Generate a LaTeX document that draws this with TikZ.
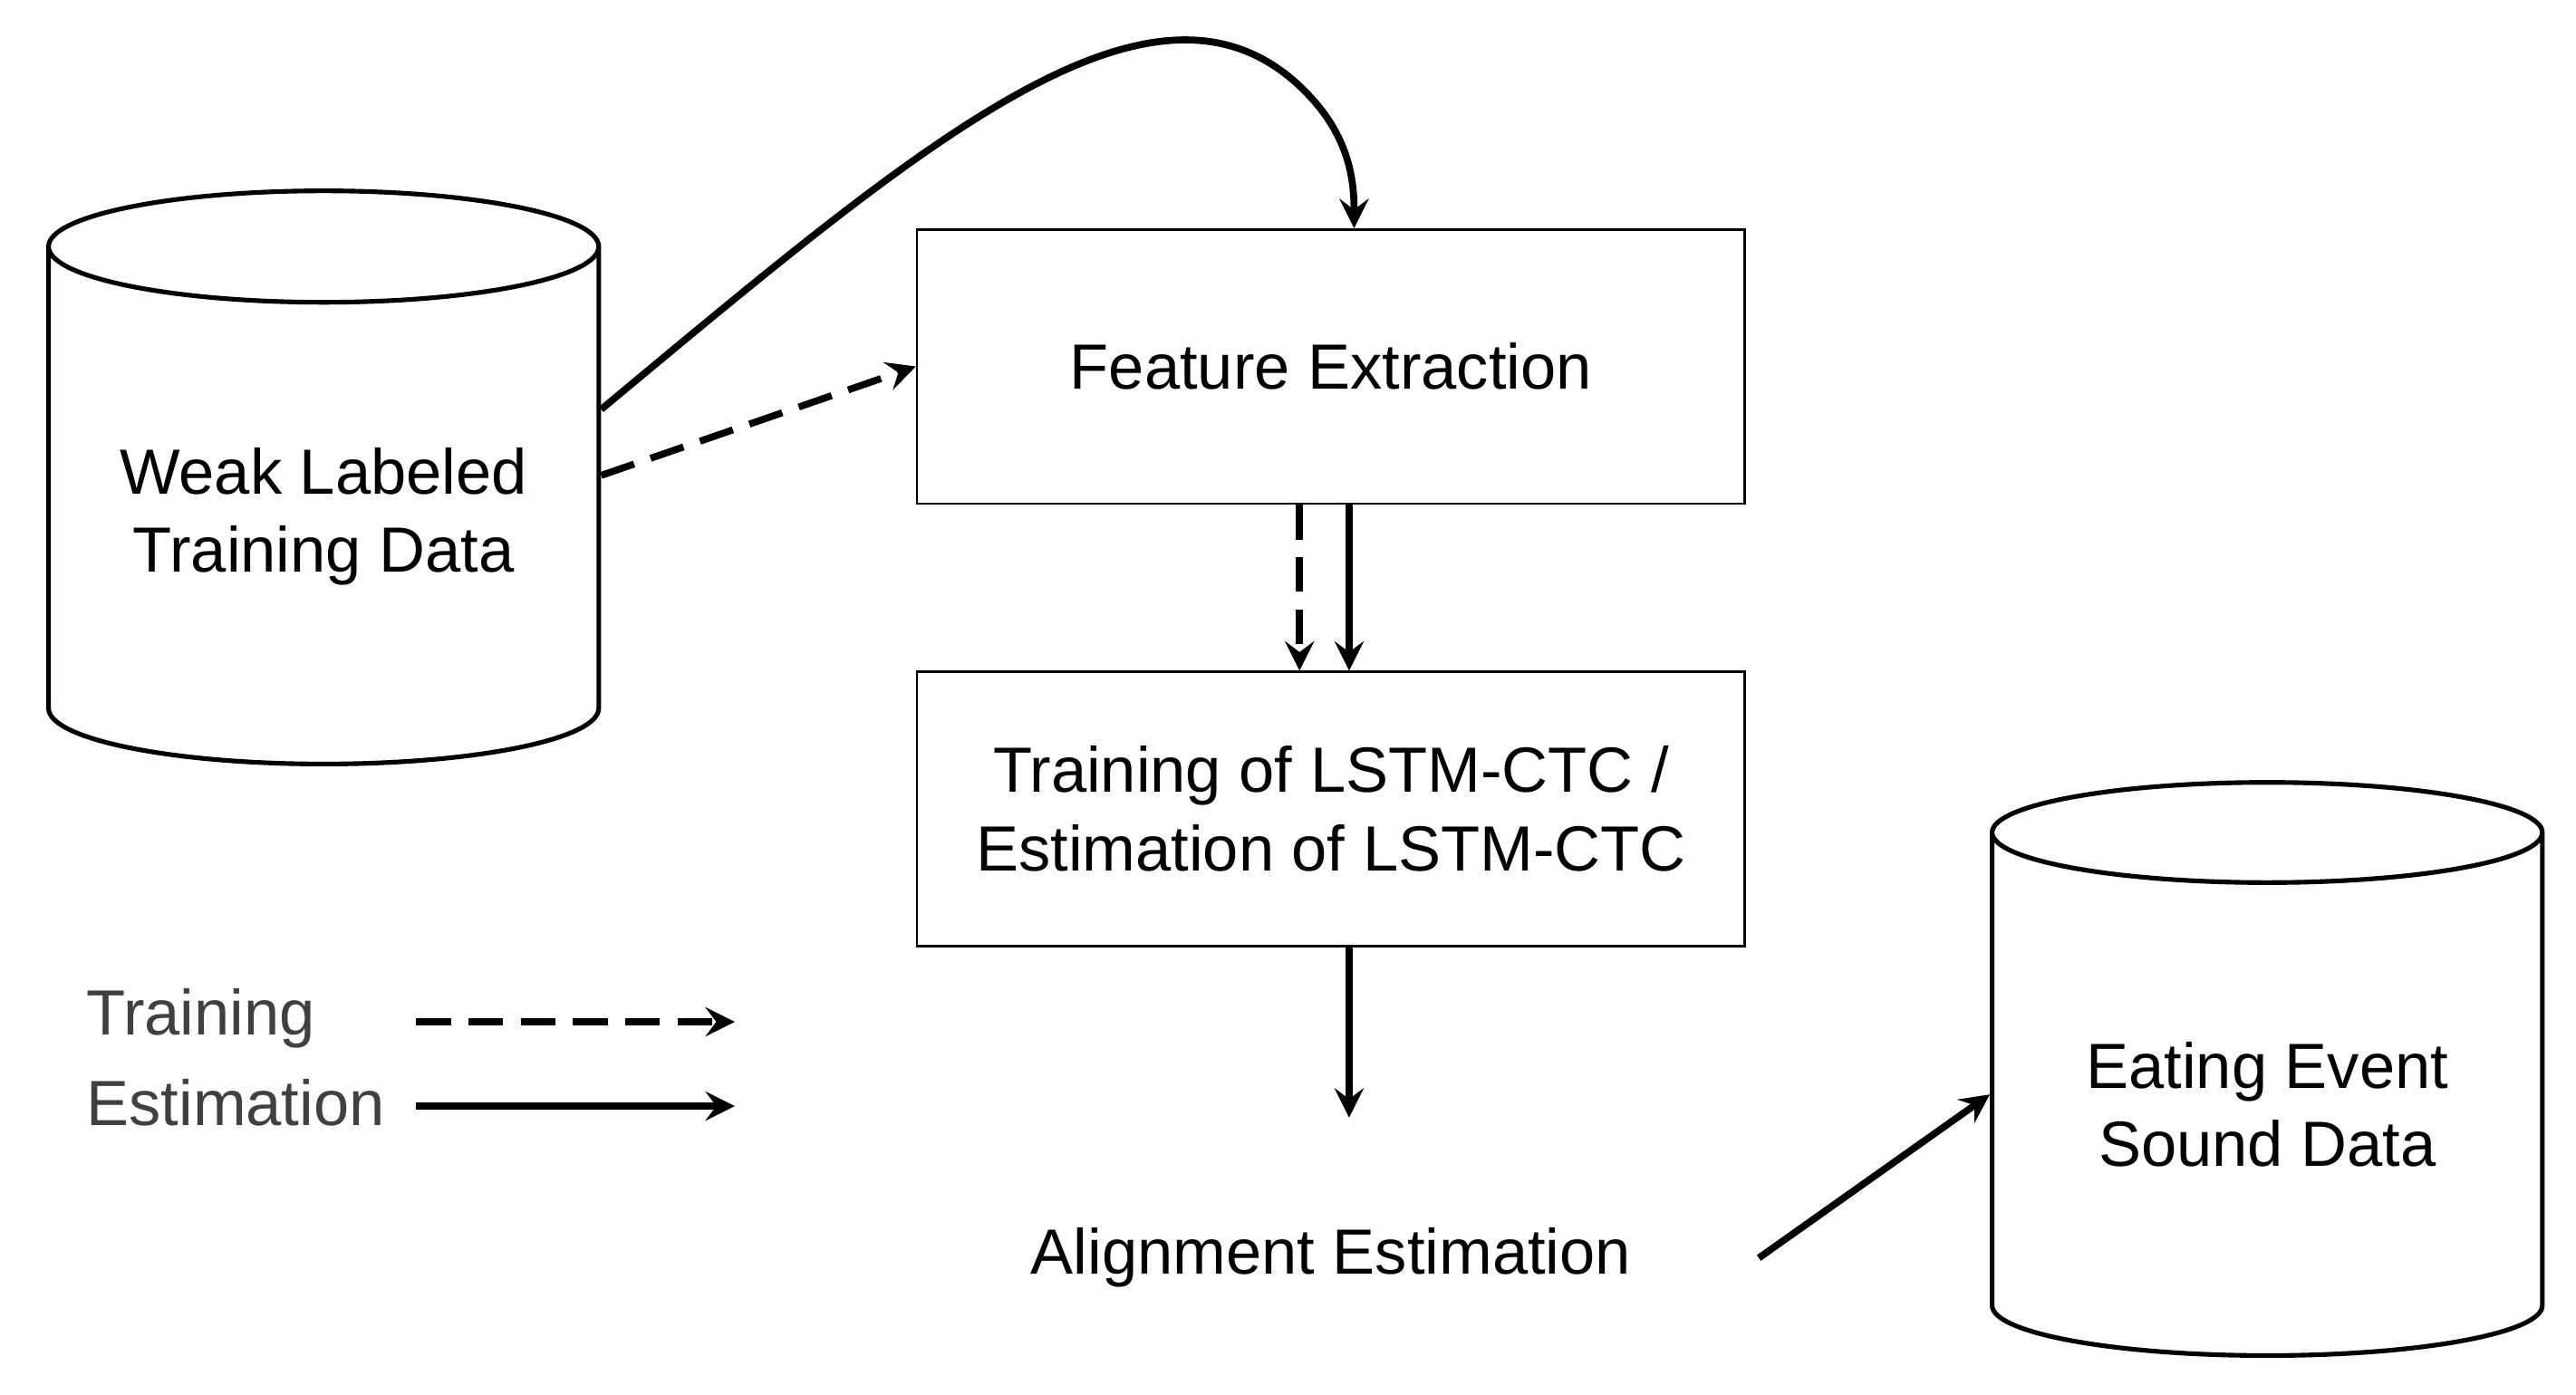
\documentclass[tikz,border=0pt]{standalone}
\usepackage{fontspec}
\setmainfont{Liberation Sans}
\usetikzlibrary{shapes.geometric, arrows}
\tikzstyle{store} = [cylinder, shape border rotate=90, aspect=0.25,
minimum width=3.33cm,
minimum height=3.47cm,
text centered, align=center,
draw=black, thick]
\tikzstyle{process} = [rectangle,
minimum width=5.01cm,
minimum height=1.66cm,
text centered, align=center,
draw=black]
\tikzstyle{arrow} = [very thick,->,>=stealth]
\tikzstyle{darrow} = [very thick,dash pattern=on 6pt off 3pt,->,>=stealth]

\begin{document}
\begin{tikzpicture}[x=0.01cm,y=0.01cm,font=\fontsize{11}{13.5}\selectfont]
\useasboundingbox (0,0) rectangle (1560,845);

\node (weak) [store] at (196,532) {Weak Labeled\\Training Data};
\node (eat) [store] at (1373,176) {Eating Event\\Sound Data};
\node (feat) [process] at (806,623) {Feature Extraction};
\node (lstm) [process] at (806,355) {Training of LSTM-CTC /\\Estimation of LSTM-CTC};
\node (align) at (806,83) {Alignment Estimation};
\coordinate (alignend) at (817,168);

% legend
\node (ltrain) [anchor=west,text=black!75] at (40,228) {Training};
\node (lest) [anchor=west,text=black!75] at (40,177) {Estimation};
\coordinate (ltr1) at (252,226);
\coordinate (ltr2) at (445,226);
\coordinate (les1) at (252,175);
\coordinate (les2) at (445,175);

\draw [arrow] (weak.east |- 0,597) .. controls (560,760) and (700,880) .. (790,790) .. controls (815,765) and (820,740) .. ([xshift=0.14cm]feat.north);
\draw [darrow] (weak.east |- 0,557) -- (feat.west);
\draw [darrow] ([xshift=-0.19cm]feat.south) -- ([xshift=-0.19cm]lstm.north);
\draw [arrow] ([xshift=0.11cm]feat.south) -- ([xshift=0.11cm]lstm.north);
\draw [arrow] ([xshift=0.11cm]lstm.south) -- (alignend);
\draw [arrow] (align.east) ++(0.65cm,0) -- ([yshift=0.06cm]eat.west);
\draw [darrow] (ltr1) -- (ltr2);
\draw [arrow] (les1) -- (les2);

\end{tikzpicture}
\end{document}
